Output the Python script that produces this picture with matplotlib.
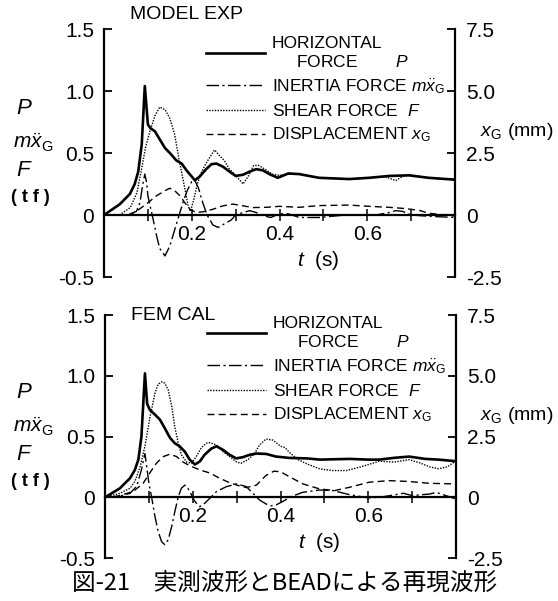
import matplotlib
matplotlib.use("Agg")
import matplotlib.pyplot as plt

plt.rcParams['font.family'] = ['Liberation Sans', 'Noto Sans CJK JP', 'DejaVu Sans']
plt.rcParams['mathtext.fontset'] = 'custom'
plt.rcParams['mathtext.it'] = 'Liberation Sans:italic'
plt.rcParams['mathtext.rm'] = 'Liberation Sans'

# ---- MODEL EXP (top) ----
exp_p_t = [0, .036, .059, .07, .078, .086, .093, .1, .106, .116, .127, .139, .15, .165, .177, .188,
           .2, .207, .218, .233, .245, .256, .271, .286, .30, .317, .332, .347, .362, .377, .396,
           .42, .445, .49, .559, .604, .65, .695, .74, .8]
exp_p = [0, .087, .17, .25, .35, .57, 1.04, .73, .70, .675, .61, .54, .50, .44, .415, .36,
         .31, .28, .31, .37, .41, .415, .39, .35, .315, .325, .35, .37, .36, .33, .30,
         .335, .33, .30, .29, .30, .315, .32, .30, .285]

exp_f_t = [.035, .06, .075, .085, .095, .105, .116, .127, .139, .15, .161, .172, .18, .186, .192,
           .197, .205, .212, .22, .23, .24, .252, .263, .274, .286, .30, .317, .33, .341, .352,
           .367, .383, .40, .42, .445, .49, .559, .604, .64, .665, .68, .695, .74, .8]
exp_f = [0, .06, .18, .36, .55, .68, .80, .87, .85, .78, .65, .43, .29, .18, .07,
         .03, .13, .24, .33, .40, .46, .525, .48, .44, .37, .32, .25, .32, .40, .40,
         .37, .33, .32, .33, .33, .30, .29, .30, .31, .277, .31, .325, .30, .285]

exp_m_t = [.055, .074, .082, .088, .093, .097, .1, .106, .112, .12, .127, .139, .15, .161, .173,
           .18, .19, .2, .207, .215, .225, .235, .248, .26, .275, .29, .30, .317, .332, .347,
           .362, .38, .40, .42, .445, .49, .55, .62, .65, .665, .68, .70, .74, .8]
exp_m = [0, .03, .10, .24, .33, .265, .155, .06, -.035, -.17, -.27, -.33, -.25, -.12, .02,
         .10, .20, .27, .28, .22, .10, 0, -.08, -.10, -.07, -.04, 0, .02, .035, .02,
         -.005, -.02, .01, .01, -.02, -.02, 0, 0, .02, .035, .03, 0, -.01, -.02]

exp_x_t = [.055, .074, .097, .12, .139, .15, .161, .173, .184, .196, .21, .226, .248, .271, .294,
           .317, .339, .37, .40, .445, .49, .559, .604, .65, .68, .70, .72, .74, .8]
exp_x = [0, .15, .45, .78, .98, 1.08, .98, .78, .5, .23, .1, .13, .23, .37, .44,
         .37, .3, .31, .35, .31, .38, .4, .35, .31, .27, .23, .18, .07, -.04]  # mm

# ---- FEM CAL (bottom) ----
fem_p_t = [0, .034, .057, .068, .076, .083, .091, .096, .102, .114, .125, .136, .148, .159, .17,
           .182, .193, .205, .216, .227, .242, .254, .269, .284, .299, .314, .33, .345, .367,
           .39, .42, .46, .49, .557, .60, .625, .66, .693, .73, .76, .8]
fem_p = [0, .074, .157, .225, .31, .50, 1.02, .77, .72, .68, .64, .57, .49, .445, .42,
         .375, .31, .27, .295, .35, .40, .42, .39, .35, .32, .33, .35, .36, .357,
         .335, .324, .32, .31, .316, .31, .31, .325, .335, .316, .31, .297]

fem_f_t = [0, .034, .057, .068, .08, .091, .102, .114, .121, .129, .136, .144, .152, .159, .167,
           .174, .186, .197, .208, .22, .231, .239, .254, .269, .284, .30, .31, .326, .341,
           .352, .367, .383, .40, .41, .42, .44, .46, .49, .52, .55, .58, .625, .66, .693,
           .72, .74, .76, .78, .8]
fem_f = [0, .033, .074, .13, .25, .42, .65, .86, .93, .95, .94, .885, .75, .58, .445,
         .35, .29, .28, .335, .41, .445, .45, .43, .376, .335, .29, .28, .31, .36,
         .43, .48, .47, .42, .41, .37, .31, .275, .233, .22, .22, .247, .297, .29, .31,
         .28, .25, .235, .25, .30]

fem_m_t = [0, .034, .057, .072, .083, .091, .096, .1, .106, .114, .121, .129, .136, .144, .152,
           .159, .167, .174, .182, .189, .197, .205, .216, .227, .239, .254, .277, .30, .322,
           .337, .352, .367, .378, .39, .41, .42, .45, .489, .52, .557, .60, .625, .65, .68,
           .70, .74, .755, .78, .8]
fem_m = [0, .01, .033, .09, .225, .36, .225, .115, .005, -.16, -.28, -.365, -.39, -.35, -.24,
         -.12, .005, .074, .10, .074, .02, -.035, -.077, -.05, -.008, .047, .088, .11, .088,
         .033, -.022, -.055, -.07, -.063, -.025, 0, .04, .06, .055, .022, -.005, 0, .014, .033,
         .014, .027, .04, .01, -.014]

fem_x_t = [.019, .064, .087, .102, .117, .133, .148, .163, .178, .193, .216, .239, .261, .284,
           .307, .322, .345, .367, .385, .40, .42, .451, .489, .523, .557, .602, .648, .693,
           .739, .8]
fem_x = [0, .235, .575, 1.0, 1.4, 1.675, 1.775, 1.675, 1.45, 1.3, 1.125, 1.0, .785, .6,
         .465, .4, .5, .9, 1.075, 1.05, .85, .55, .345, .275, .41, .62, .685, .65,
         .575, .55]  # mm

yticks_left = [-0.5, 0, 0.5, 1.0, 1.5]
ylabels_left = ['-0.5', '0', '0.5', '1.0', '1.5']
yticks_right = [-2.5, 0, 2.5, 5.0, 7.5]
ylabels_right = ['-2.5', '0', '2.5', '5.0', '7.5']
xticks = [0.1, 0.2, 0.3, 0.4, 0.5, 0.6, 0.7]
xlabels = ['', '0.2', '', '0.4', '', '0.6', '']

fig = plt.figure(figsize=(5.58, 6.01), dpi=100)


def panel(rect, title, title_y, leg_y, p_t, p, m_t, m, f_t, f, x_t, x):
    ax = fig.add_axes(rect)
    ax.set_xlim(0, 0.8)
    ax.set_ylim(-0.5, 1.5)
    for s in ['top', 'right']:
        ax.spines[s].set_visible(False)
    ax.spines['bottom'].set_position(('data', 0))
    ax.spines['bottom'].set_linewidth(1.6)
    ax.spines['left'].set_linewidth(1.6)
    ax.set_yticks(yticks_left)
    ax.set_yticklabels(ylabels_left, fontsize=15)
    ax.tick_params(axis='y', direction='in', length=6, width=1.3, pad=7)
    ax.set_xticks(xticks)
    ax.set_xticklabels(xlabels, fontsize=15)
    ax.tick_params(axis='x', direction='inout', length=8, width=1.1, pad=3)

    l1, = ax.plot(p_t, p, color='black', lw=1.9)
    l2, = ax.plot(m_t, m, color='black', lw=1.0, ls=(0, (9, 2.5, 1.5, 2.5)))
    l3, = ax.plot(f_t, f, color='black', lw=1.0, ls=(0, (1, 1)))

    ax2 = ax.twinx()
    ax2.set_ylim(-2.5, 7.5)
    for s in ['top', 'left', 'bottom']:
        ax2.spines[s].set_visible(False)
    ax2.spines['right'].set_linewidth(1.6)
    ax2.set_yticks(yticks_right)
    ax2.set_yticklabels(ylabels_right, fontsize=15)
    ax2.tick_params(axis='y', direction='in', length=6, width=1.3, pad=8)
    l4, = ax2.plot(x_t, x, color='black', lw=1.0, ls=(0, (5, 3)))

    ax2.legend([l1, l2, l3, l4],
               ['HORIZONTAL\n     FORCE        $P$',
                'INERTIA FORCE $m\\ddot{x}_{\\mathrm{G}}$',
                'SHEAR FORCE  $F$',
                'DISPLACEMENT $x_{\\mathrm{G}}$'],
               loc='upper left', bbox_to_anchor=(0.255, leg_y), frameon=False,
               fontsize=12.5, handlelength=3.4, handletextpad=0.4, labelspacing=0.4,
               borderpad=0.2)

    ax.text(0.44, -0.37, '$t$  (s)', fontsize=15, ha='left', va='center')
    ax.text(0.06, title_y, title, fontsize=14, ha='left', va='center')
    return ax


top = panel([0.1864, 0.5391, 0.629, 0.4126], 'MODEL EXP', 1.62, 1.02,
            exp_p_t, exp_p, exp_m_t, exp_m, exp_f_t, exp_f, exp_x_t, exp_x)
bot = panel([0.1882, 0.0715, 0.629, 0.4043], 'FEM CAL', 1.5, 1.045,
            fem_p_t, fem_p, fem_m_t, fem_m, fem_f_t, fem_f, fem_x_t, fem_x)

# left / right axis labels
for off in [0, 284]:
    fig.text(24 / 558, 1 - (108 + off) / 601, '$P$', fontsize=16, ha='center', va='center')
    fig.text(33 / 558, 1 - (143 + off) / 601, '$m\\ddot{x}_{\\mathrm{G}}$', fontsize=15,
             ha='center', va='center')
    fig.text(24 / 558, 1 - (170 + off) / 601, '$F$', fontsize=16, ha='center', va='center')
    fig.text(30 / 558, 1 - (198 + off) / 601, '( t f )', fontsize=13, ha='center', va='center',
             fontweight='bold')
    fig.text(553 / 558, 1 - (131 + off) / 601, '$x_{\\mathrm{G}}$ (mm)', fontsize=14,
             ha='right', va='center')

fig.text(285 / 558, 1 - 584 / 601, '図-21　実測波形とBEADによる再現波形', fontsize=17,
         ha='center', va='center', family=['Noto Sans CJK JP'])

fig.savefig('out.png', dpi=100)
